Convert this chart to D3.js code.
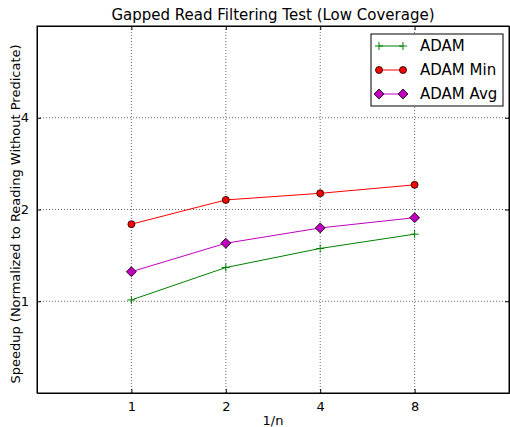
<!DOCTYPE html>
<html><head><meta charset="utf-8">
<script src="https://cdn.jsdelivr.net/npm/d3@7"></script>
<style>body{margin:0;background:#fff;} text{font-family:"DejaVu Sans",sans-serif;}</style>
</head><body><svg id="c" width="510" height="427"></svg>
<script>
const xTicks = [1, 2, 4, 8];
const yTicks = [1, 2, 4];
const seriesNames = ["ADAM", "ADAM Min", "ADAM Avg"];
const adam = [1.01, 1.29, 1.49, 1.66];
const adamMin = [1.79, 2.15, 2.26, 2.41];
const adamAvg = [1.25, 1.55, 1.74, 1.88];

const svg = d3.select("#c");
const L = 37, R = 509, T = 26, B = 393;
const x = d3.scaleLog().base(2).domain([0.5, 16]).range([L, R]);
const y = d3.scaleLog().base(2).domain([0.5, 8]).range([B, T]);

// grid
const g = svg.append("g");
xTicks.forEach(v => g.append("line").attr("x1", x(v)).attr("x2", x(v)).attr("y1", T).attr("y2", B)
  .attr("stroke", "#000").attr("stroke-width", 0.6).attr("stroke-dasharray", "1,2"));
yTicks.forEach(v => g.append("line").attr("y1", y(v)).attr("y2", y(v)).attr("x1", L).attr("x2", R)
  .attr("stroke", "#000").attr("stroke-width", 0.6).attr("stroke-dasharray", "1,2"));

// axes
const xa = svg.append("g").attr("transform", `translate(0,${B})`)
  .call(d3.axisBottom(x).tickValues(xTicks).tickFormat(d3.format("d")).tickSizeInner(-4).tickSizeOuter(0).tickPadding(9));
const xt = svg.append("g").attr("transform", `translate(0,${T})`)
  .call(d3.axisTop(x).tickValues(xTicks).tickFormat("").tickSizeInner(-4).tickSizeOuter(0));
const ya = svg.append("g").attr("transform", `translate(${L},0)`)
  .call(d3.axisLeft(y).tickValues(yTicks).tickFormat(d3.format("d")).tickSizeInner(-4).tickSizeOuter(0).tickPadding(8));
const yr = svg.append("g").attr("transform", `translate(${R},0)`)
  .call(d3.axisRight(y).tickValues(yTicks).tickFormat("").tickSizeInner(-4).tickSizeOuter(0));
[xa, xt, ya, yr].forEach(a => {
  a.select(".domain").attr("stroke", "#000").attr("stroke-width", 1);
  a.selectAll(".tick line").attr("stroke", "#000");
  a.selectAll(".tick text").attr("font-size", 13).attr("fill", "#000").attr("font-family", "DejaVu Sans");
});
svg.append("rect").attr("x", L).attr("y", T).attr("width", R - L).attr("height", B - T)
  .attr("fill", "none").attr("stroke", "#000").attr("stroke-width", 1);

const line = d3.line().x((d, i) => x(xTicks[i])).y(d => y(d));
const data = [
  {v: adam, color: "#008000", marker: "plus"},
  {v: adamMin, color: "#ff0000", marker: "circle"},
  {v: adamAvg, color: "#bf00bf", marker: "diamond"}
];
function drawMarker(sel, type, color, cx, cy) {
  if (type === "plus") {
    sel.append("path").attr("d", `M${cx-4},${cy}H${cx+4}M${cx},${cy-4}V${cy+4}`).attr("stroke", color).attr("stroke-width", 1);
  } else if (type === "circle") {
    sel.append("circle").attr("cx", cx).attr("cy", cy).attr("r", 3.5).attr("fill", "#ff0000").attr("stroke", "#000").attr("stroke-width", 0.8);
  } else {
    sel.append("path").attr("d", `M${cx},${cy-5}L${cx+5},${cy}L${cx},${cy+5}L${cx-5},${cy}Z`).attr("fill", color).attr("stroke", "#000").attr("stroke-width", 0.8);
  }
}
data.forEach(s => {
  svg.append("path").attr("d", line(s.v)).attr("fill", "none").attr("stroke", s.color).attr("stroke-width", 1);
  s.v.forEach((d, i) => drawMarker(svg, s.marker, s.color, x(xTicks[i]), y(d)));
});

// title and labels
svg.append("text").attr("x", 273).attr("y", 20).attr("text-anchor", "middle").attr("font-size", 15)
  .text("Gapped Read Filtering Test (Low Coverage)");
svg.append("text").attr("x", 273).attr("y", 425).attr("text-anchor", "middle").attr("font-size", 13).text("1/n");
svg.append("text").attr("transform", "translate(20,214) rotate(-90)").attr("text-anchor", "middle").attr("font-size", 13)
  .text("Speedup (Normalized to Reading Without Predicate)");

// legend
const lg = svg.append("g");
lg.append("rect").attr("x", 371).attr("y", 34).attr("width", 132).attr("height", 72)
  .attr("fill", "#fff").attr("stroke", "#000").attr("stroke-width", 1);
data.forEach((s, i) => {
  const ly = 46 + i * 24;
  lg.append("line").attr("x1", 379).attr("x2", 403).attr("y1", ly).attr("y2", ly).attr("stroke", s.color).attr("stroke-width", 1);
  drawMarker(lg, s.marker, s.color, 379, ly);
  drawMarker(lg, s.marker, s.color, 403, ly);
  lg.append("text").attr("x", 420).attr("y", ly + 5).attr("font-size", 15).text(seriesNames[i]);
});
</script></body></html>
